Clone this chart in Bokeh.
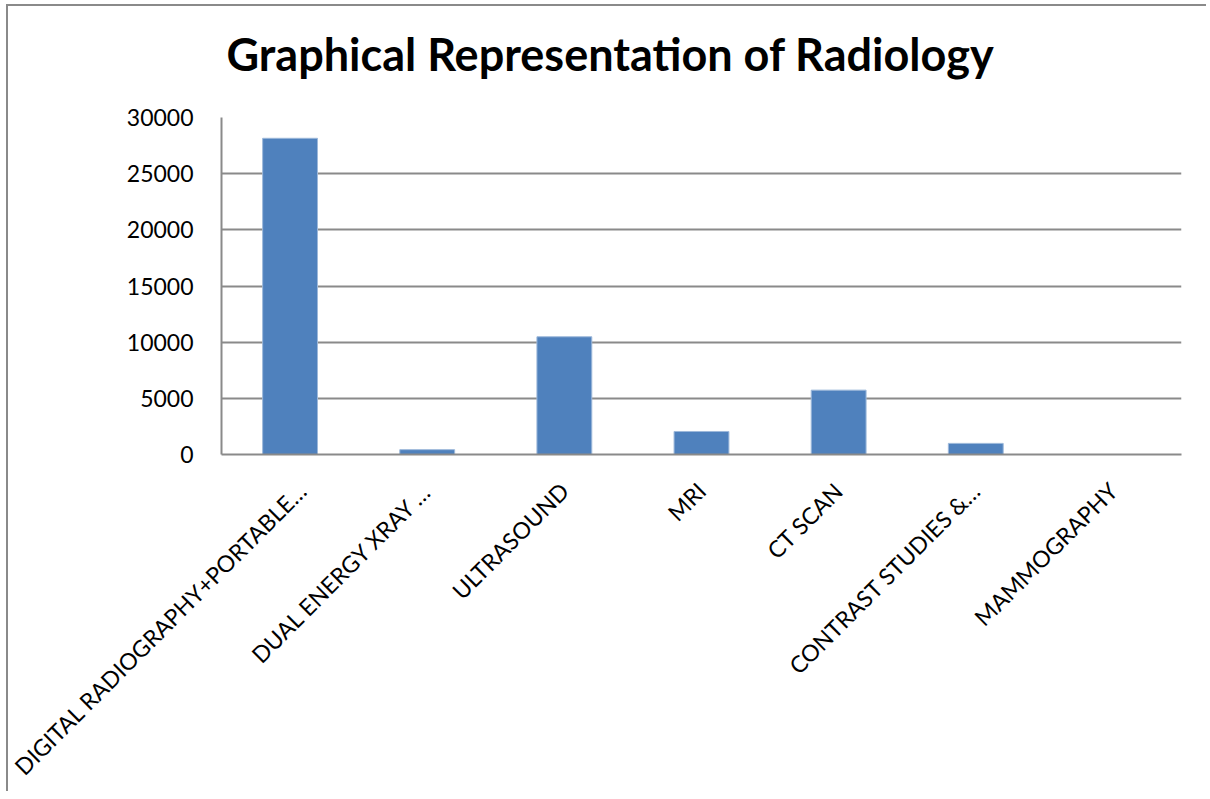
import math
from bokeh.plotting import figure
from bokeh.models import Range1d, FactorRange, Title
from bokeh.embed import file_html
from bokeh.resources import INLINE

categories = ["DIGITAL RADIOGRAPHY+PORTABLE…", "DUAL ENERGY XRAY …", "ULTRASOUND",
              "MRI", "CT SCAN", "CONTRAST STUDIES &…", "MAMMOGRAPHY"]
values = [28150, 430, 10480, 2050, 5730, 990, 0]
y_ticks = [0, 5000, 10000, 15000, 20000, 25000, 30000]
title_text = "Graphical Representation of Radiology"

FONT = "Lato"
GRID = "#8a8a8a"

p = figure(x_range=FactorRange(*categories), y_range=Range1d(0, 30000),
           width=1200, height=787, output_backend="svg", toolbar_location=None,
           min_border_left=213, min_border_right=27, min_border_top=111,
           min_border_bottom=338)
p.styles = {"border-left": "2px solid #8a8a8a", "border-top": "2px solid #8a8a8a",
            "margin-left": "6px", "margin-top": "4px"}

p.vbar(x=categories, top=values, width=0.4, fill_color="#4F81BD",
       line_color="#9DB8DA", line_width=1)

p.title = None
# spacer panel between the frame and the title (keeps the title higher up)
spacer = Title(text=" ", text_font_size="1px", standoff=34)
p.add_layout(spacer, "above")
t = Title(text=title_text, align="left", offset=5, standoff=0,
          text_font=FONT, text_font_size="45px", text_font_style="bold",
          text_color="black")
p.add_layout(t, "above")

p.outline_line_color = None
p.background_fill_color = "white"
p.border_fill_color = "white"

p.xgrid.grid_line_color = None
p.ygrid.grid_line_color = GRID
p.ygrid.grid_line_width = 2
p.yaxis.ticker = y_ticks

for ax in (p.xaxis, p.yaxis):
    ax.axis_line_color = GRID
    ax.axis_line_width = 2
    ax.major_tick_line_color = None
    ax.minor_tick_line_color = None
    ax.major_label_text_font = FONT
    ax.major_label_text_font_size = "23px"
    ax.major_label_text_color = "black"

p.yaxis.major_label_standoff = 22
p.xaxis.major_label_orientation = math.pi / 4
p.xaxis.major_label_standoff = 26
p.x_range.range_padding = 0
p.x_range.group_padding = 0

open("out.html", "w").write(file_html(p, INLINE))
